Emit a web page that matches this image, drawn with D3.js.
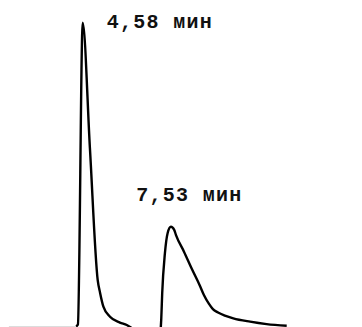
<!DOCTYPE html>
<html>
<head>
<meta charset="utf-8">
<script src="https://cdn.jsdelivr.net/npm/d3@7"></script>
<style>
  html, body { margin: 0; padding: 0; background: #fff; }
  svg { display: block; }
  .peak-label { font-family: "Courier New", "Liberation Mono", monospace; font-weight: bold; font-size: 20px; letter-spacing: 1.3px; fill: #111; }
</style>
</head>
<body>
<div id="chart"></div>
<script>
// retention time (min) and detector signal
var baseTime = [2.12, 4.36];
var baseSignal = [0.75, 0.75];

var peak1Time   = [4.36, 4.42, 4.58, 4.82, 5.08, 5.16, 5.27, 5.49, 5.82, 6.05, 6.26];
var peak1Signal = [0.82, 1.47, 100.1, 59.2, 16.0, 11.8, 7.3, 4.0, 2.1, 1.3, 0];

var peak2Time   = [7.18, 7.2, 7.23, 7.32, 7.41, 7.52, 7.63, 7.69, 7.96, 8.22, 8.49, 8.62, 8.79, 8.92, 9.09, 9.32, 9.6, 10.16, 10.71, 11.38];
var peak2Signal = [0, 3.6, 11.7, 24.7, 31.3, 33.4, 32.4, 30.7, 25.2, 19.6, 14.05, 11.1, 8.2, 6.5, 5.4, 4.4, 3.5, 2.4, 1.6, 1.05];

var peakTimes  = [4.58, 7.53];
var peakHeights = [100.1, 33.4];
var peakLabels = ["4,58 мин", "7,53 мин"];

var width = 362, height = 327;

var x = d3.scaleLinear().domain([2, 12]).range([5.3, 305.3]);
var y = d3.scaleLinear().domain([0, 100]).range([329, 23]);

var svg = d3.select("#chart").append("svg")
    .attr("width", width)
    .attr("height", height);

var zip = (ts, vs) => ts.map((t, i) => [t, vs[i]]);

var line = d3.line()
    .x(d => x(d[0]))
    .y(d => y(d[1]))
    .curve(d3.curveMonotoneX);

// faint baseline before the first peak
svg.append("path")
    .attr("d", d3.line().x(d => x(d[0])).y(d => y(d[1]))(zip(baseTime, baseSignal)))
    .attr("fill", "none")
    .attr("stroke", "#d4d4d4")
    .attr("stroke-width", 1);

[zip(peak1Time, peak1Signal), zip(peak2Time, peak2Signal)].forEach(function(pts) {
  svg.append("path")
      .attr("d", line(pts))
      .attr("fill", "none")
      .attr("stroke", "#000")
      .attr("stroke-width", 2.4)
      .attr("stroke-linejoin", "round");
});

// labels next to the peaks
var labelDx = [24, -35];
var labelDy = [5, -26];
svg.selectAll("text.peak-label")
    .data(peakLabels)
    .enter().append("text")
    .attr("class", "peak-label")
    .attr("x", (d, i) => x(peakTimes[i]) + labelDx[i])
    .attr("y", (d, i) => y(peakHeights[i]) + labelDy[i])
    .text(d => d);
</script>
</body>
</html>
